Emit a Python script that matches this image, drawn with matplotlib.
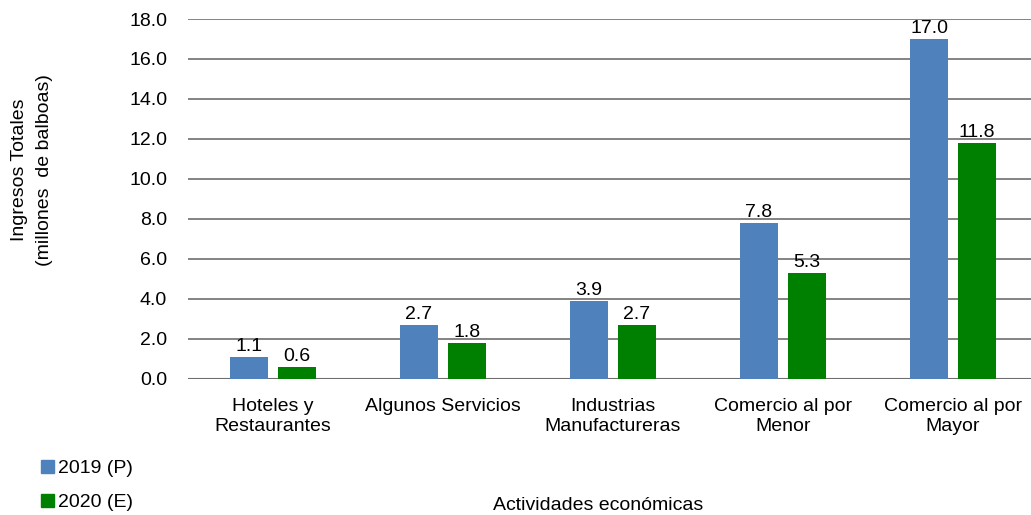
import matplotlib
matplotlib.use("Agg")
import matplotlib.pyplot as plt
import numpy as np
from matplotlib.patches import Patch

plt.rcParams['font.family'] = ['Liberation Sans', 'DejaVu Sans']

categories = ["Hoteles y\nRestaurantes", "Algunos Servicios", "Industrias\nManufactureras",
              "Comercio al por\nMenor", "Comercio al por\nMayor"]
series_names = ["2019 (P)", "2020 (E)"]
values_2019 = [1.1, 2.7, 3.9, 7.8, 17.0]
values_2020 = [0.6, 1.8, 2.7, 5.3, 11.8]
yticks = [0, 2, 4, 6, 8, 10, 12, 14, 16, 18]

c_blue = "#4F81BD"
c_green = "#008000"
fs = 14

W, H = 1031, 515
fig = plt.figure(figsize=(W/100, H/100), dpi=100)
left, right, top, bottom = 188, 1038, 19, 378.5
ax = fig.add_axes([left/W, 1-bottom/H, (right-left)/W, (bottom-top)/H])

x = np.arange(len(categories))
bw = 0.224
off = 0.141
b1 = ax.bar(x-off, values_2019, bw, color=c_blue, zorder=3)
b2 = ax.bar(x+off, values_2020, bw, color=c_green, zorder=3)
for bars, vals in ((b1, values_2019), (b2, values_2020)):
    for r, v in zip(bars, vals):
        ax.text(r.get_x()+r.get_width()/2, v+0.08, f"{v:.1f}", ha='center', va='bottom',
                fontsize=fs, color='#000000', zorder=4)

ax.set_xlim(-0.5, 4.5)
ax.set_ylim(0, 18)
ax.set_yticks(yticks)
ax.set_yticklabels([f"{t:.1f}" for t in yticks], fontsize=fs)
ax.set_xticks(x)
ax.set_xticklabels(categories, fontsize=fs, linespacing=1.2)
ax.tick_params(axis='y', length=0, pad=15)
ax.tick_params(axis='x', length=0, pad=14)
ax.yaxis.grid(True, color='#6e6e6e', linewidth=1.2, zorder=0)
ax.axhline(0, color='#6e6e6e', linewidth=1.5, zorder=2)
for s in ax.spines.values():
    s.set_visible(False)

fig.text(32/W, 1-170/H, "Ingresos Totales\n(millones  de balboas)", rotation=90,
         ha='center', va='center', fontsize=fs, linespacing=1.55)
fig.text(598/W, 1-505/H, "Actividades económicas", ha='center', va='center', fontsize=fs)

handles = [Patch(color=c_blue), Patch(color=c_green)]
fig.legend(handles, series_names, loc='lower left', bbox_to_anchor=(41/W, 4/H),
           frameon=False, fontsize=fs, handlelength=0.65, handleheight=0.65,
           handletextpad=0.2, labelspacing=0.85, borderpad=0, borderaxespad=0)

fig.savefig("out.png", dpi=100)
